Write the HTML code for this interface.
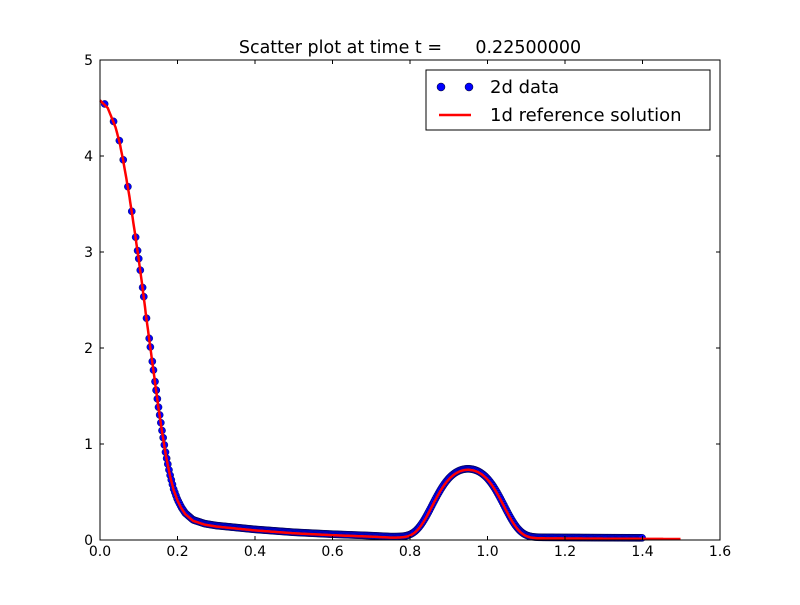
<!DOCTYPE html>
<html><head><meta charset="utf-8"><style>
html,body{margin:0;padding:0;background:#fff}
svg text{font-family:"DejaVu Sans","Liberation Sans",sans-serif;white-space:pre}
</style></head><body>
<svg id="s" width="800" height="600" xmlns="http://www.w3.org/2000/svg">
<rect width="800" height="600" fill="#fff"/>
<g id="dots"></g>
<polyline id="line" fill="none" stroke="#ff0000" stroke-width="2.5" stroke-linejoin="round" points=""/>
<rect x="100" y="60" width="620" height="480" fill="none" stroke="#000" stroke-width="1"/>
<g id="ticks" stroke="#000" stroke-width="1"></g>
<g font-size="14" fill="#000" text-anchor="middle">
<text x="100" y="556">0.0</text><text x="177.5" y="556">0.2</text><text x="255" y="556">0.4</text><text x="332.5" y="556">0.6</text><text x="410" y="556">0.8</text><text x="487.5" y="556">1.0</text><text x="565" y="556">1.2</text><text x="642.5" y="556">1.4</text><text x="720" y="556">1.6</text>
</g>
<g font-size="14" fill="#000" text-anchor="end">
<text x="93" y="545">0</text><text x="93" y="449">1</text><text x="93" y="353">2</text><text x="93" y="257">3</text><text x="93" y="161">4</text><text x="93" y="65">5</text>
</g>
<text x="410" y="53" font-size="17.5" text-anchor="middle" xml:space="preserve">Scatter plot at time t =      0.22500000</text>
<rect x="426" y="70" width="284" height="60" fill="#fff" stroke="#000"/>
<circle cx="441" cy="87" r="4" fill="#0000ff" stroke="#000" stroke-width="0.5"/>
<circle cx="469" cy="87" r="4" fill="#0000ff" stroke="#000" stroke-width="0.5"/>
<text x="490" y="93" font-size="18">2d data</text>
<line x1="439" y1="115" x2="471" y2="115" stroke="#ff0000" stroke-width="2.5"/>
<text x="490" y="121" font-size="18">1d reference solution</text>
</svg>
<script>
var P=[[0,4.58],[0.02,4.5],[0.04,4.3],[0.05,4.15],[0.06,3.95],[0.075,3.6],[0.09,3.2],[0.1,2.92],[0.11,2.62],[0.12,2.3],[0.13,2.0],[0.14,1.7],[0.15,1.4],[0.16,1.13],[0.17,0.88],[0.18,0.68],[0.19,0.52],[0.2,0.41],[0.21,0.33],[0.22,0.27],[0.24,0.2],[0.27,0.16],[0.3,0.14],[0.35,0.12],[0.4,0.1],[0.5,0.07],[0.6,0.05],[0.7,0.035],[0.75,0.025],[1.5,0.01]];
function base(x){for(var i=1;i<P.length;i++){if(x<=P[i][0]){var a=P[i-1],b=P[i];return a[1]+(b[1]-a[1])*(x-a[0])/(b[0]-a[0]);}}return 0.01;}
function f(x){var v=base(x);var d=(x-0.95)/0.105;v+=0.71*Math.exp(-d*d*d*d*0.55-d*d*0.55);return v;}
function X(x){return 100+x*387.5}function Y(y){return 540-y*96}
var NS="http://www.w3.org/2000/svg",pts=[];
for(var x=0;x<=1.5;x+=0.002)pts.push(X(x).toFixed(1)+","+Y(f(x)).toFixed(1));
document.getElementById("line").setAttribute("points",pts.join(" "));
var g=document.getElementById("dots");
function dot(x,y){var c=document.createElementNS(NS,"circle");c.setAttribute("cx",X(x));c.setAttribute("cy",Y(y)-1);c.setAttribute("r",3.6);c.setAttribute("fill","#0000ff");c.setAttribute("stroke","#000033");c.setAttribute("stroke-width","0.4");g.appendChild(c);}
var xs=[0.012,0.035,0.05,0.06,0.072,0.082,0.092,0.097,0.1,0.104,0.11,0.113,0.12,0.127,0.13,0.135,0.138,0.142,0.145];
xs.forEach(function(x){dot(x,f(x));});
for(var x=0.145;x<=1.4;x+=0.003){dot(x,f(x));}
var t=document.getElementById("ticks"),s="";
[0,0.2,0.4,0.6,0.8,1.0,1.2,1.4,1.6].forEach(function(v){var px=X(v);s+='<line x1="'+px+'" y1="540" x2="'+px+'" y2="536"/><line x1="'+px+'" y1="60" x2="'+px+'" y2="64"/>';});
[0,1,2,3,4,5].forEach(function(v){var py=Y(v);s+='<line x1="100" y1="'+py+'" x2="104" y2="'+py+'"/><line x1="720" y1="'+py+'" x2="716" y2="'+py+'"/>';});
t.innerHTML=s;
</script>
</body></html>
